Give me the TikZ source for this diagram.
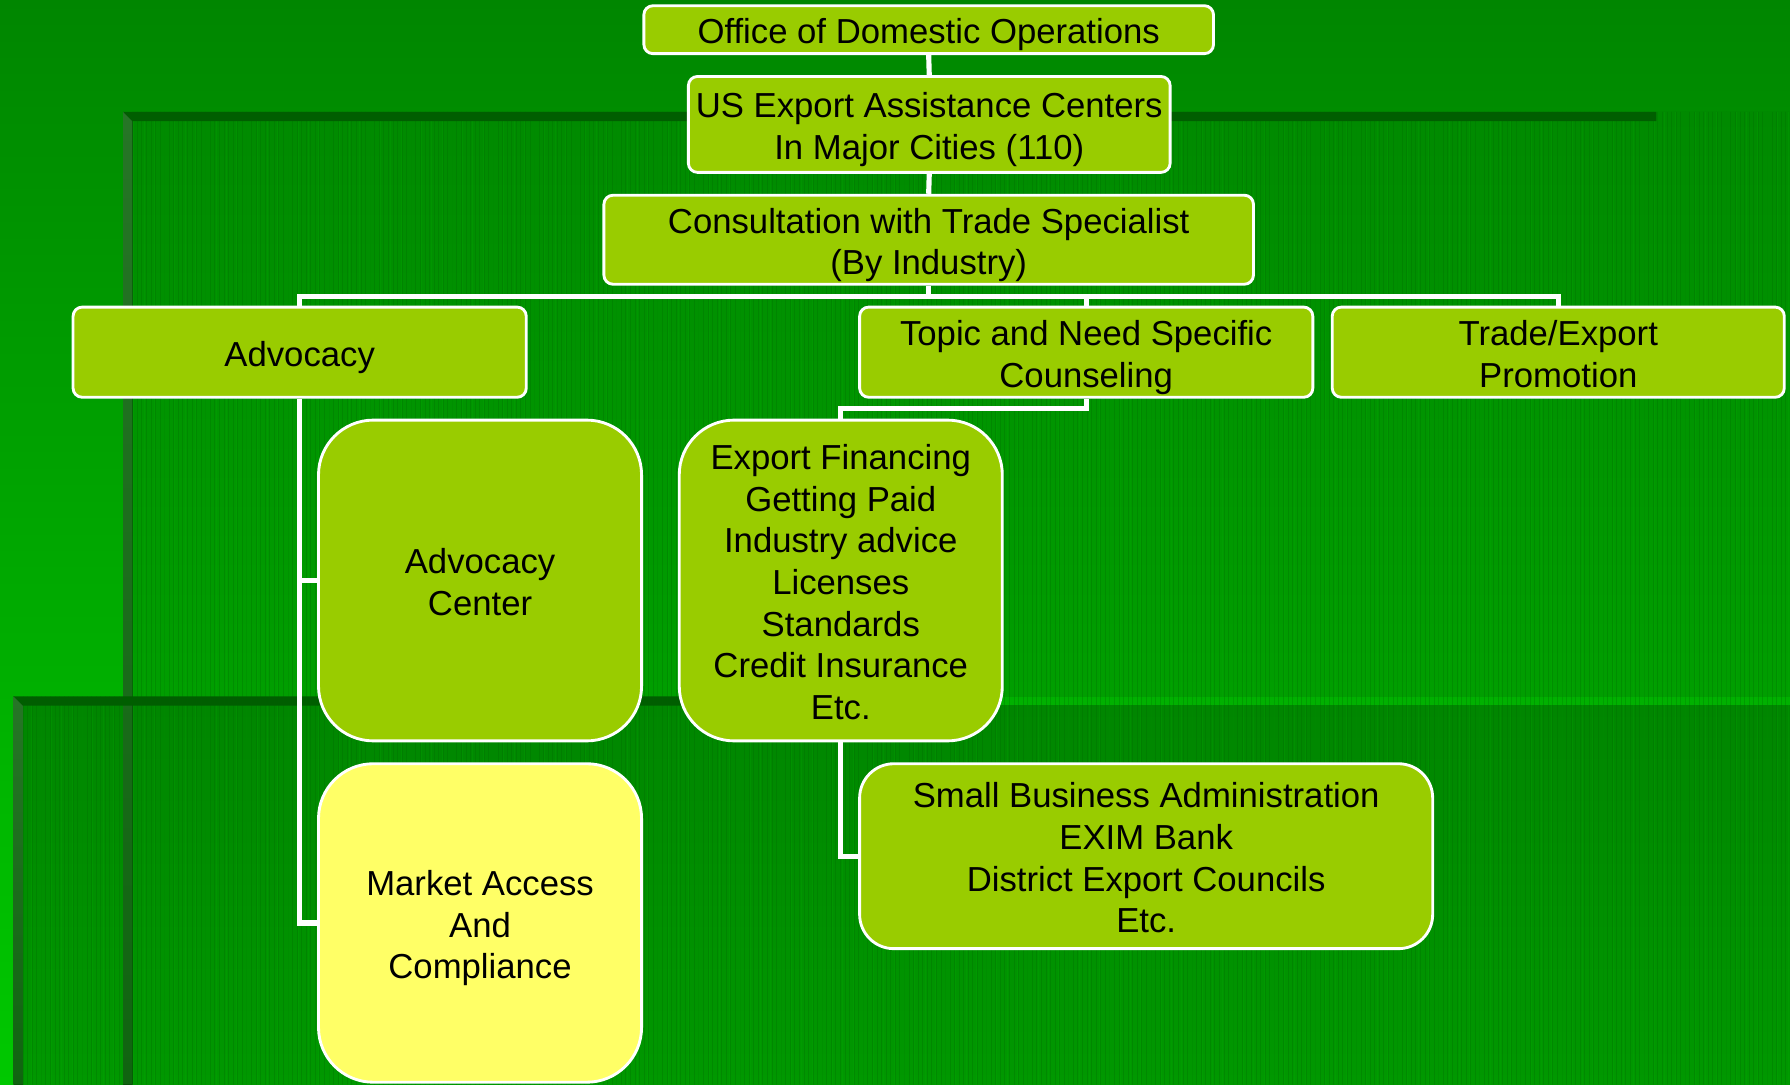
\documentclass[tikz,border=0pt]{standalone}
\usepackage{fontspec}
\setmainfont{Liberation Sans}
\definecolor{boxgreen}{HTML}{99CC00}
\definecolor{boxyellow}{HTML}{FFFF66}
\definecolor{stripdark}{HTML}{005E00}
\definecolor{beveltop}{HTML}{267526}
\definecolor{bevelbot}{HTML}{106410}
\definecolor{basetop}{HTML}{008600}
\definecolor{basebot}{HTML}{00C800}
\definecolor{panA}{HTML}{008A00}
\definecolor{panB}{HTML}{009E00}
\definecolor{panC}{HTML}{008600}
\definecolor{panD}{HTML}{009800}
\definecolor{texture}{HTML}{006A00}
\newcommand\sT{\rule{0pt}{32.8pt}}
\newcommand\sB{\rule[-8pt]{0pt}{8pt}}
\tikzset{
  box/.style={draw=white, line width=2.5pt, fill=boxgreen, rounded corners=8pt,
    align=center, inner sep=0pt, font={\fontsize{30.4}{36.5}\selectfont}},
  bigbox/.style={box, rounded corners=48pt},
  conn/.style={draw=white, line width=4.5pt},
}
\begin{document}
\begin{tikzpicture}[x=1pt,y=-1pt]
\useasboundingbox (0,0) rectangle (1568,950);
% base background
\fill[top color=basetop, bottom color=basebot] (0,0) rectangle (1568,950);
% panel 1
\fill[top color=panA, bottom color=panB] (116,98) rectangle (1568,610);
% panel 2
\fill[top color=panC, bottom color=panD] (20,618) rectangle (1568,950);
% texture
\begin{scope}
\clip (116,98) rectangle (1568,610) (20,610) rectangle (1568,950);
\draw[texture, line width=0.3pt, opacity=0.3, step=4] (0,0) grid (1568,950);
\draw[green!70!black, line width=0.3pt, opacity=0.2, step=9] (2,2) grid (1568,950);
\end{scope}
% panel 1 bevel and strip
\fill[top color=beveltop, bottom color=bevelbot] (108,98) -- (116,106) -- (116,950) -- (108,950) -- cycle;
\fill[stripdark] (108,98) -- (1451,98) -- (1451,106) -- (116,106) -- cycle;
% panel 2 bevel and strip
\fill[top color=beveltop, bottom color=bevelbot] (12,610) -- (20,618) -- (20,950) -- (12,950) -- cycle;
\fill[stripdark] (12,610) -- (720,610) -- (720,618) -- (20,618) -- cycle;

% nodes
\node[box, minimum width=499, minimum height=42] (office) at (813.5,26) {\sT Office of Domestic Operations\sB};
\node[box, minimum width=422, minimum height=84] (useac) at (814,109) {\sT US Export Assistance Centers\\In Major Cities (110)\sB};
\node[box, minimum width=569, minimum height=78] (consult) at (813.5,210) {\sT Consultation with Trade Specialist\\(By Industry)\sB};
\node[box, minimum width=397, minimum height=79] (advocacy) at (262.5,308.5) {\sT Advocacy\sB};
\node[box, minimum width=397, minimum height=79] (topic) at (951.5,308.5) {\sT Topic and Need Specific\\Counseling\sB};
\node[box, minimum width=396, minimum height=79] (trade) at (1365,308.5) {\sT Trade/Export\\Promotion\sB};
\node[bigbox, minimum width=283, minimum height=281] (advcenter) at (420.5,508.5) {\sT Advocacy\\Center\sB};
\node[bigbox, minimum width=283, minimum height=281] (export) at (736.5,508.5) {\sT Export Financing\\Getting Paid\\Industry advice\\Licenses\\Standards\\Credit Insurance\\Etc.\sB};
\node[bigbox, fill=boxyellow, minimum width=283, minimum height=279] (market) at (420.5,808.5) {\sT Market Access\\And\\Compliance\sB};
\node[box, rounded corners=30pt, minimum width=502, minimum height=162] (sba) at (1004,750) {\sT Small Business Administration\\EXIM Bank\\District Export Councils\\Etc.\sB};

% connectors
\coordinate (bus) at (0,260);
\coordinate (tj) at (0,358);
\draw[conn] (office.south) -- (useac.north);
\draw[conn] (useac.south) -- (consult.north);
\draw[conn] (consult.south) -- (consult.south |- bus);
\draw[conn] (advocacy.north) -- (advocacy.north |- bus) -- (trade.north |- bus) -- (trade.north);
\draw[conn] (topic.north) -- (topic.north |- bus);
\draw[conn] (advocacy.south) -- (advocacy.south |- market.west) -- (market.west);
\draw[conn] (advocacy.south |- advcenter.west) -- (advcenter.west);
\draw[conn] (topic.south) -- (topic.south |- tj) -- (export.north |- tj) -- (export.north);
\draw[conn] (export.south) |- (sba.west);
\end{tikzpicture}
\end{document}
